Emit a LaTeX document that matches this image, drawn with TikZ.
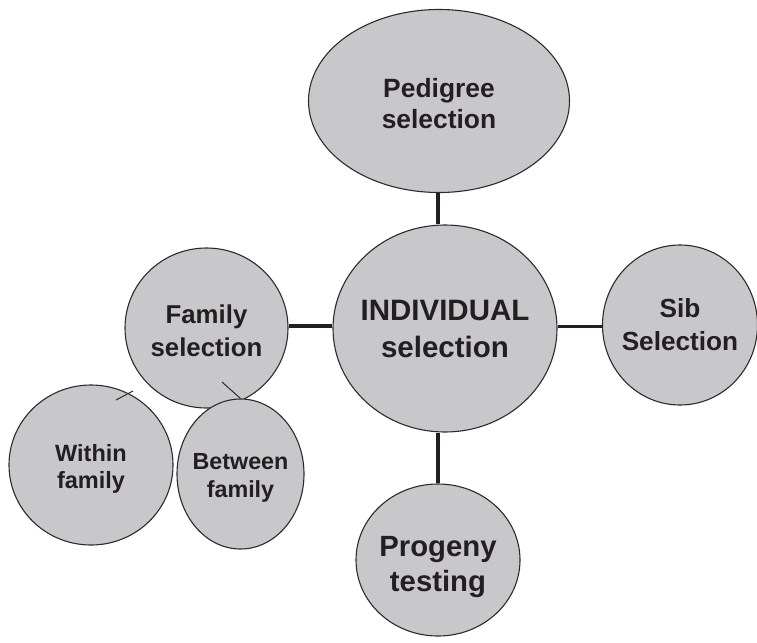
\documentclass[tikz,border=0pt]{standalone}
\usepackage{fontspec}
\setmainfont{Liberation Sans}
\usetikzlibrary{shapes.geometric}
\definecolor{bubblefill}{RGB}{200,200,203}
\definecolor{edgeink}{RGB}{45,42,43}
\definecolor{labelink}{RGB}{35,31,32}
\tikzset{
  bubble/.style={ellipse, draw=edgeink, line width=1.1pt, fill=bubblefill,
    inner sep=0pt},
  caption/.style={align=center, text=labelink, inner sep=0pt},
  link/.style={draw=labelink, line width=3.2pt},
  tickmark/.style={draw=edgeink, line width=1pt},
}
\newcommand{\lbl}[2]{\bfseries\fontsize{#1}{#2}\selectfont}
\begin{document}
\begin{tikzpicture}[x=1pt,y=-1pt]
\useasboundingbox (0,0) rectangle (757,642);

% central method and its four branches
\node[bubble, minimum width=261, minimum height=183,
  label={[caption, font=\lbl{26.4}{31}, yshift=-3pt]center:{Pedigree\\selection}}]
  (ped) at (439,101) {};
\node[bubble, minimum width=224, minimum height=207,
  label={[caption, font=\lbl{29.5}{37}]center:{INDIVIDUAL\\selection}}]
  (ind) at (445,328.5) {};
\node[bubble, minimum width=155, minimum height=160,
  label={[caption, font=\lbl{26.2}{33}]center:{Sib\\Selection}}]
  (sib) at (680,325) {};
\node[bubble, minimum width=164, minimum height=152,
  label={[caption, font=\lbl{29.3}{35}, yshift=-7pt]center:{Progeny\\testing}}]
  (prog) at (438,560) {};
\node[bubble, minimum width=163, minimum height=160,
  label={[caption, font=\lbl{25.8}{33}, yshift=-3pt]center:{Family\\selection}}]
  (fam) at (206.5,328) {};

% the two kinds of family selection
\node[bubble, minimum width=164, minimum height=160,
  label={[caption, font=\lbl{23.5}{27}, yshift=-4pt]center:{Within\\family}}]
  (within) at (91,465) {};
\node[bubble, minimum width=127, minimum height=150,
  label={[caption, font=\lbl{23.3}{28}, yshift=-4pt]center:{Between\\family}}]
  (between) at (240.5,474) {};

% connectors
\draw[link] (ped.south -| prog.north) -- (prog.north |- ind.north);
\draw[link] (prog.north |- ind.south) -- (prog.north);
\draw[link] ([yshift=2pt]fam.east) -- ([yshift=2pt]fam.east -| ind.west);
\draw[link] ([yshift=2pt]ind.east) -- ([yshift=2pt]ind.east -| sib.west);

% short marks between the family circles
\coordinate (wtA) at (116,400);
\coordinate (wtB) at (133,391);
\coordinate (btA) at (222,382);
\draw[tickmark] (wtA) -- (wtB);
\draw[tickmark] (btA) -- (between.north);
\end{tikzpicture}
\end{document}
